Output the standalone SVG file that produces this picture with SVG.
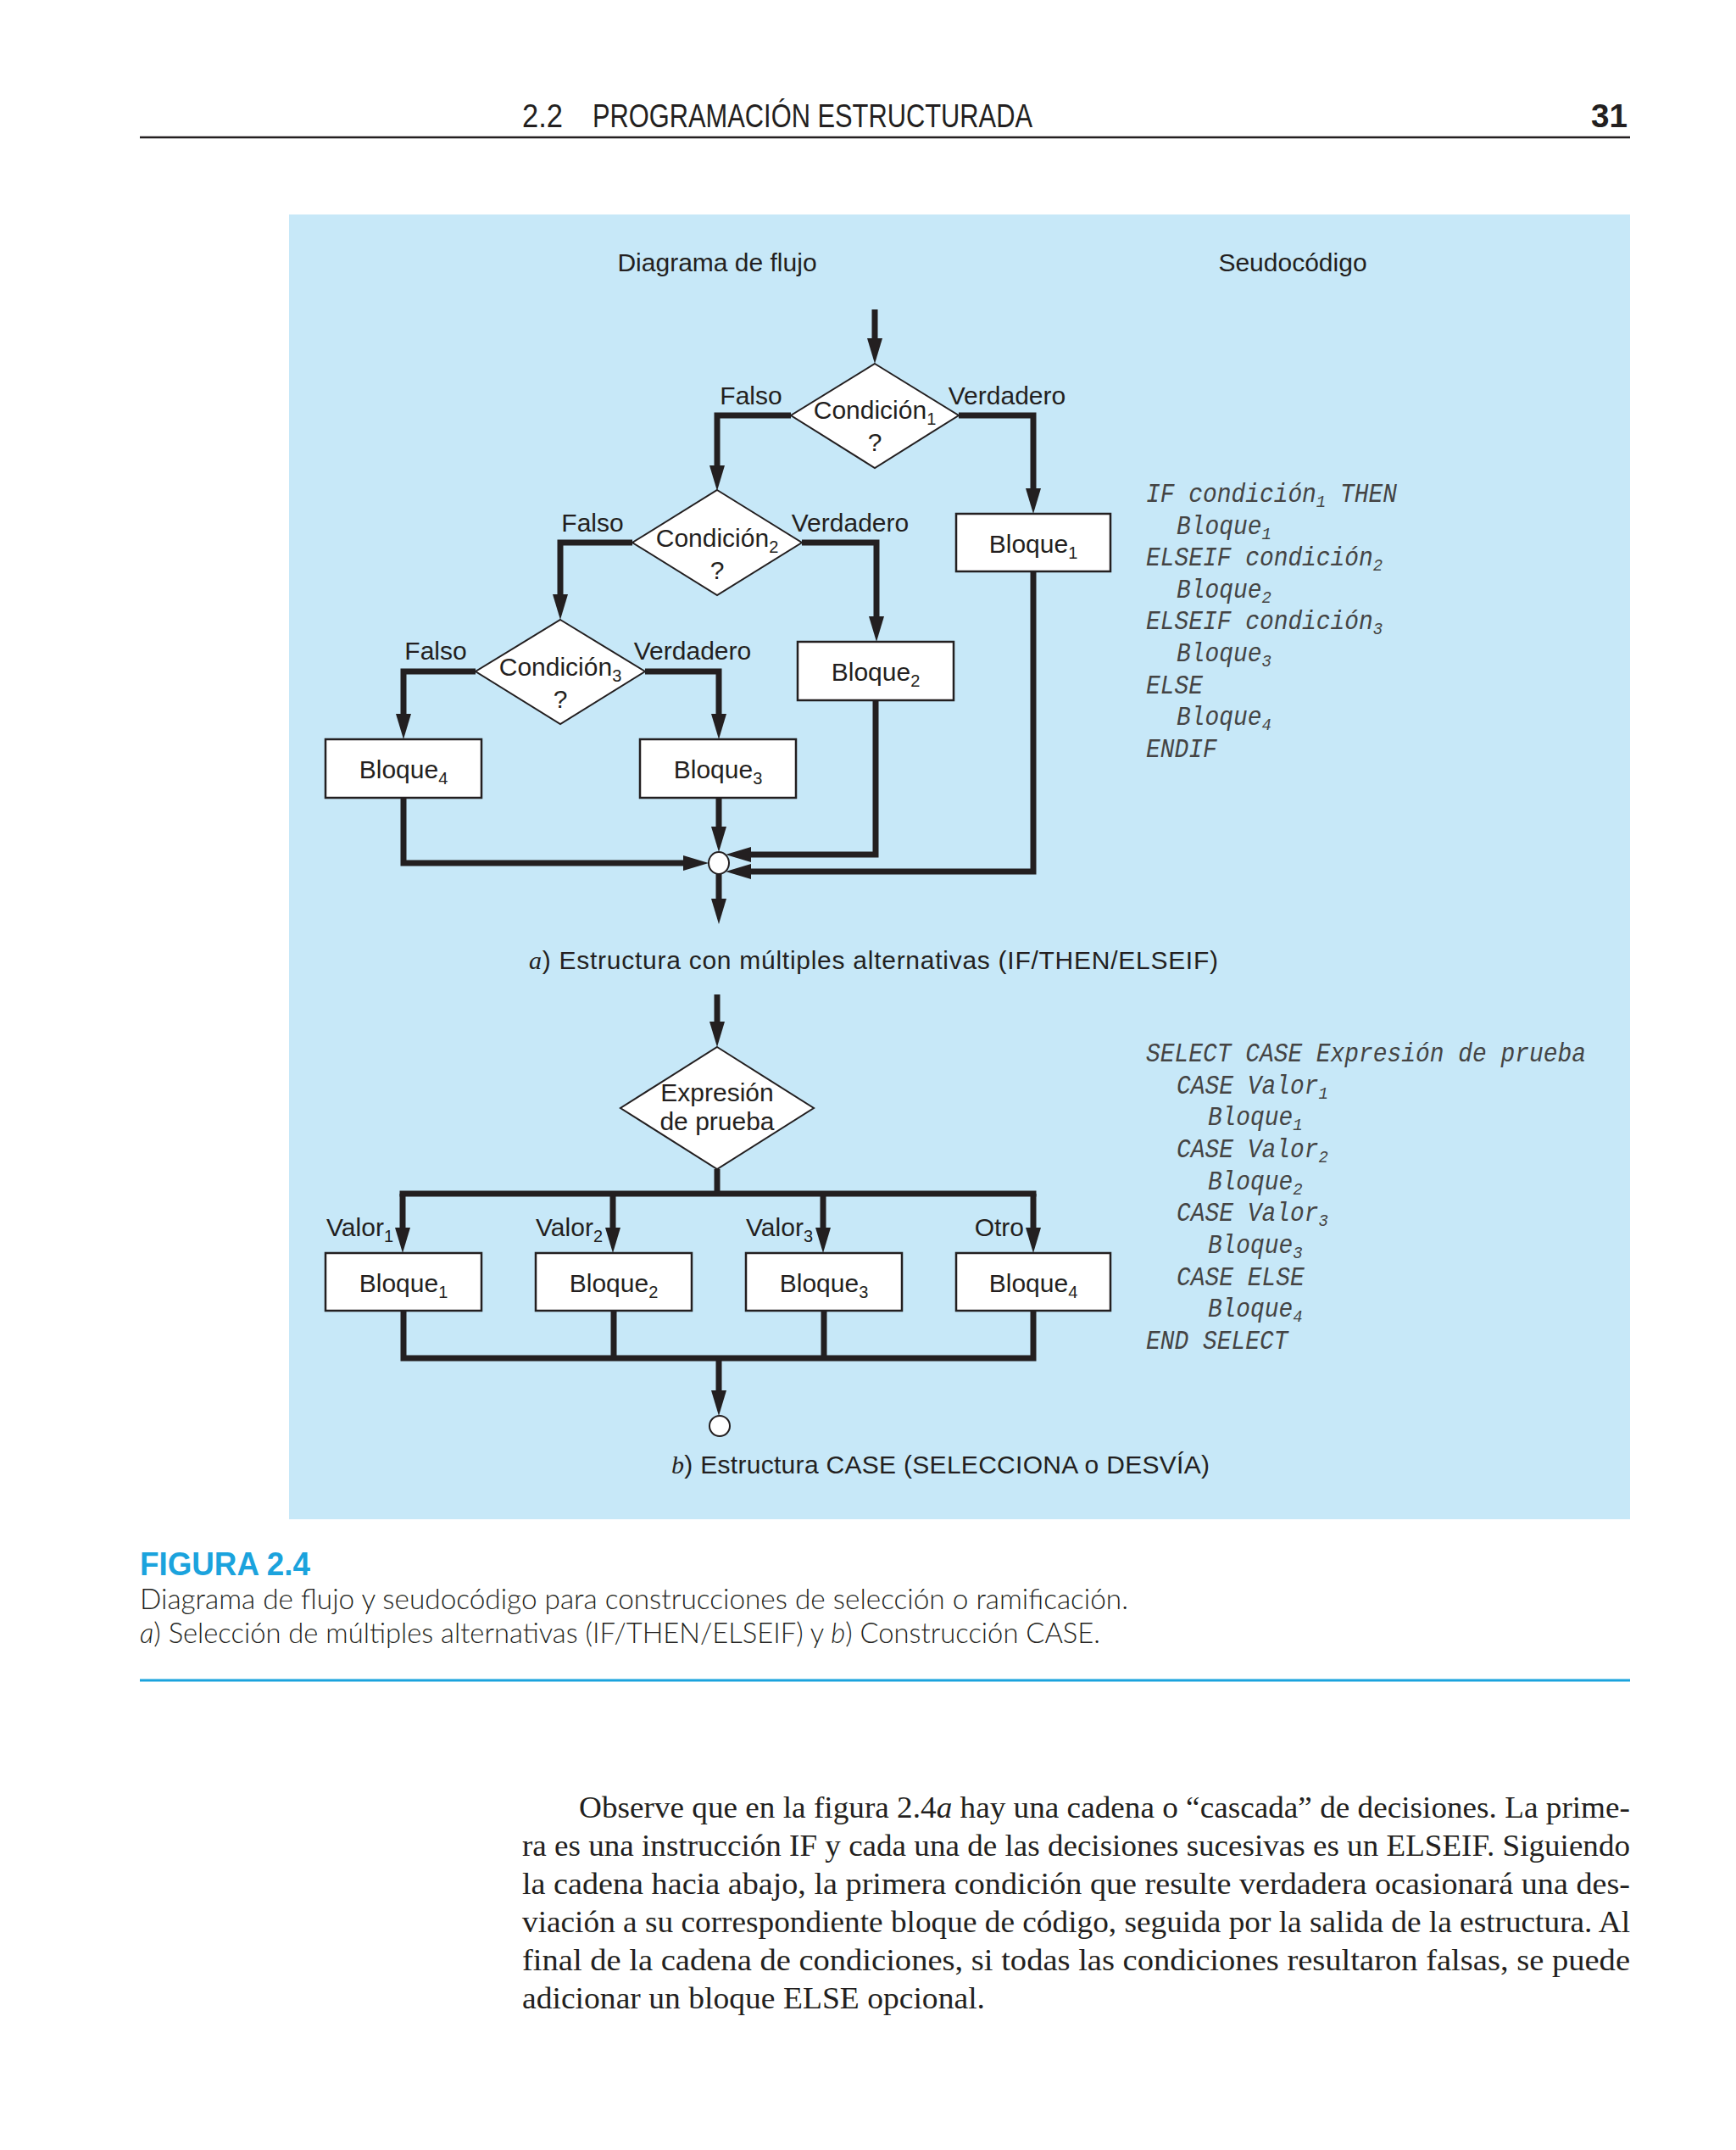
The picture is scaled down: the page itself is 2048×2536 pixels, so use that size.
<svg xmlns="http://www.w3.org/2000/svg" width="2048" height="2536" viewBox="0 0 2048 2536">
<style>
.lbl{font-family:"Liberation Sans",Arial,sans-serif;font-size:30px;fill:#231f20}
.sub{font-size:20px}
.code{font-family:"Liberation Mono","DejaVu Sans Mono",monospace;font-style:italic;font-size:31px;fill:#444}
.csub{font-size:21px}
.conn{fill:none;stroke:#231f20;stroke-width:7;stroke-linejoin:miter}
.box{fill:#fff;stroke:#231f20;stroke-width:2.5}
.dia{fill:#fff;stroke:#231f20;stroke-width:2}
.hdr{font-family:"Liberation Sans",Arial,sans-serif;font-size:38px;fill:#231f20}
.cap{font-family:Lato,"Liberation Sans",Arial,sans-serif;font-weight:300;font-size:34px;fill:#231f20}
.body{font-family:"Liberation Serif","Times New Roman",serif;font-size:36px;fill:#231f20}
.it{font-family:"Liberation Serif",serif;font-style:italic}
</style>
<defs>
<marker id="ah" markerUnits="userSpaceOnUse" markerWidth="30" markerHeight="18" refX="0" refY="9" orient="auto" overflow="visible">
<path d="M0,0 L30,9 L0,18 z" fill="#231f20"/>
</marker>
</defs>
<rect width="2048" height="2536" fill="#fff"/>

<g id="header">
<text class="hdr" x="616" y="150" textLength="48" lengthAdjust="spacingAndGlyphs">2.2</text>
<text class="hdr" x="699" y="150" textLength="519" lengthAdjust="spacingAndGlyphs">PROGRAMACIÓN ESTRUCTURADA</text>
<text class="hdr" x="1877" y="150" font-weight="bold" textLength="43" lengthAdjust="spacingAndGlyphs">31</text>
<line x1="165" y1="162" x2="1923" y2="162" stroke="#231f20" stroke-width="2.5"/>
</g>

<rect id="panel" x="341" y="253" width="1582" height="1539" fill="#c7e8f8"/>

<text class="lbl" x="846" y="320" text-anchor="middle">Diagrama de flujo</text>
<text class="lbl" x="1525" y="320" text-anchor="middle">Seudocódigo</text>

<g id="connectors">
<path class="conn" d="M1032,365 V399" marker-end="url(#ah)"/>
<path class="conn" d="M933,490 H846 V549" marker-end="url(#ah)"/>
<path class="conn" d="M1131,490 H1219 V576" marker-end="url(#ah)"/>
<path class="conn" d="M746,640 H661 V701" marker-end="url(#ah)"/>
<path class="conn" d="M946,640 H1034 V727" marker-end="url(#ah)"/>
<path class="conn" d="M561,792 H476 V842" marker-end="url(#ah)"/>
<path class="conn" d="M761,792 H848 V842" marker-end="url(#ah)"/>
<path class="conn" d="M848,941 V975" marker-end="url(#ah)"/>
<path class="conn" d="M476,941 V1018 H806" marker-end="url(#ah)"/>
<path class="conn" d="M1033,826 V1008 H886" marker-end="url(#ah)"/>
<path class="conn" d="M1219,674 V1028 H886" marker-end="url(#ah)"/>
<path class="conn" d="M848,1031 V1060" marker-end="url(#ah)"/>

<path class="conn" d="M846,1173 V1205" marker-end="url(#ah)"/>
<path class="conn" d="M846,1379 V1408"/>
<path class="conn" d="M475,1408 H1219" stroke-linecap="square"/>
<path class="conn" d="M475,1408 V1448" marker-end="url(#ah)"/>
<path class="conn" d="M723,1408 V1448" marker-end="url(#ah)"/>
<path class="conn" d="M971,1408 V1448" marker-end="url(#ah)"/>
<path class="conn" d="M1219,1408 V1448" marker-end="url(#ah)"/>
<path class="conn" d="M476,1546 V1602 H1219 V1546"/>
<path class="conn" d="M724,1546 V1602"/>
<path class="conn" d="M972,1546 V1602"/>
<path class="conn" d="M848,1602 V1640" marker-end="url(#ah)"/>
</g>

<g id="cond1">
<polygon class="dia" points="1032,429 1131,490 1032,552 933,490"/>
<text class="lbl" x="1032" y="494" text-anchor="middle">Condición<tspan class="sub" dy="7">1</tspan></text>
<text class="lbl" x="1032" y="532" text-anchor="middle">?</text>
</g>
<g id="cond2">
<polygon class="dia" points="846,578 946,640 846,702 746,640"/>
<text class="lbl" x="846" y="645" text-anchor="middle">Condición<tspan class="sub" dy="7">2</tspan></text>
<text class="lbl" x="846" y="683" text-anchor="middle">?</text>
</g>
<g id="cond3">
<polygon class="dia" points="661,731 761,792 661,854 561,792"/>
<text class="lbl" x="661" y="797" text-anchor="middle">Condición<tspan class="sub" dy="7">3</tspan></text>
<text class="lbl" x="661" y="835" text-anchor="middle">?</text>
</g>

<g id="labels-a">
<text class="lbl" x="886" y="477" text-anchor="middle">Falso</text>
<text class="lbl" x="1188" y="477" text-anchor="middle">Verdadero</text>
<text class="lbl" x="699" y="627" text-anchor="middle">Falso</text>
<text class="lbl" x="1003" y="627" text-anchor="middle">Verdadero</text>
<text class="lbl" x="514" y="778" text-anchor="middle">Falso</text>
<text class="lbl" x="817" y="778" text-anchor="middle">Verdadero</text>
</g>

<g id="a-bloque1">
<rect class="box" x="1128" y="606" width="182" height="68"/>
<text class="lbl" x="1219" y="652" text-anchor="middle">Bloque<tspan class="sub" dy="7">1</tspan></text>
</g>
<g id="a-bloque2">
<rect class="box" x="941" y="757" width="184" height="69"/>
<text class="lbl" x="1033" y="803" text-anchor="middle">Bloque<tspan class="sub" dy="7">2</tspan></text>
</g>
<g id="a-bloque4">
<rect class="box" x="384" y="872" width="184" height="69"/>
<text class="lbl" x="476" y="918" text-anchor="middle">Bloque<tspan class="sub" dy="7">4</tspan></text>
</g>
<g id="a-bloque3">
<rect class="box" x="755" y="872" width="184" height="69"/>
<text class="lbl" x="847" y="918" text-anchor="middle">Bloque<tspan class="sub" dy="7">3</tspan></text>
</g>
<g id="a-join">
<ellipse cx="848" cy="1018" rx="12" ry="13" fill="#fff" stroke="#231f20" stroke-width="2"/>
</g>

<text class="lbl" x="624" y="1143" font-size="29" textLength="813" lengthAdjust="spacing"><tspan class="it">a</tspan>) Estructura con múltiples alternativas (IF/THEN/ELSEIF)</text>

<g id="code-a" class="code" transform="translate(1352,0) scale(0.9,1) translate(-1352,0)">
<text x="1352" y="592">IF condición<tspan class="csub" dy="6">1</tspan><tspan dy="-6"> THEN</tspan></text>
<text x="1392" y="630">Bloque<tspan class="csub" dy="6">1</tspan></text>
<text x="1352" y="667">ELSEIF condición<tspan class="csub" dy="6">2</tspan></text>
<text x="1392" y="705">Bloque<tspan class="csub" dy="6">2</tspan></text>
<text x="1352" y="742">ELSEIF condición<tspan class="csub" dy="6">3</tspan></text>
<text x="1392" y="780">Bloque<tspan class="csub" dy="6">3</tspan></text>
<text x="1352" y="818">ELSE</text>
<text x="1392" y="855">Bloque<tspan class="csub" dy="6">4</tspan></text>
<text x="1352" y="893">ENDIF</text>
</g>

<g id="expr">
<polygon class="dia" points="846,1235 960,1307 846,1379 732,1307"/>
<text class="lbl" x="846" y="1299" text-anchor="middle" font-size="28">Expresión</text>
<text class="lbl" x="846" y="1333" text-anchor="middle" font-size="28">de prueba</text>
</g>

<g id="labels-b">
<text class="lbl" x="464" y="1458" text-anchor="end">Valor<tspan class="sub" dy="7">1</tspan></text>
<text class="lbl" x="711" y="1458" text-anchor="end">Valor<tspan class="sub" dy="7">2</tspan></text>
<text class="lbl" x="959" y="1458" text-anchor="end">Valor<tspan class="sub" dy="7">3</tspan></text>
<text class="lbl" x="1208" y="1458" text-anchor="end">Otro</text>
</g>

<g id="b-bloque1">
<rect class="box" x="384" y="1478" width="184" height="68"/>
<text class="lbl" x="476" y="1524" text-anchor="middle">Bloque<tspan class="sub" dy="7">1</tspan></text>
</g>
<g id="b-bloque2">
<rect class="box" x="632" y="1478" width="184" height="68"/>
<text class="lbl" x="724" y="1524" text-anchor="middle">Bloque<tspan class="sub" dy="7">2</tspan></text>
</g>
<g id="b-bloque3">
<rect class="box" x="880" y="1478" width="184" height="68"/>
<text class="lbl" x="972" y="1524" text-anchor="middle">Bloque<tspan class="sub" dy="7">3</tspan></text>
</g>
<g id="b-bloque4">
<rect class="box" x="1128" y="1478" width="182" height="68"/>
<text class="lbl" x="1219" y="1524" text-anchor="middle">Bloque<tspan class="sub" dy="7">4</tspan></text>
</g>
<g id="b-end">
<circle cx="849" cy="1682" r="12" fill="#fff" stroke="#231f20" stroke-width="2"/>
</g>

<text class="lbl" x="792" y="1738" font-size="29" textLength="635" lengthAdjust="spacing"><tspan class="it">b</tspan>) Estructura CASE (SELECCIONA o DESVÍA)</text>

<g id="code-b" class="code" transform="translate(1352,0) scale(0.9,1) translate(-1352,0)">
<text x="1352" y="1252">SELECT CASE Expresión de prueba</text>
<text x="1392" y="1290">CASE Valor<tspan class="csub" dy="6">1</tspan></text>
<text x="1433" y="1327">Bloque<tspan class="csub" dy="6">1</tspan></text>
<text x="1392" y="1365">CASE Valor<tspan class="csub" dy="6">2</tspan></text>
<text x="1433" y="1403">Bloque<tspan class="csub" dy="6">2</tspan></text>
<text x="1392" y="1440">CASE Valor<tspan class="csub" dy="6">3</tspan></text>
<text x="1433" y="1478">Bloque<tspan class="csub" dy="6">3</tspan></text>
<text x="1392" y="1516">CASE ELSE</text>
<text x="1433" y="1553">Bloque<tspan class="csub" dy="6">4</tspan></text>
<text x="1352" y="1591">END SELECT</text>
</g>

<g id="caption">
<text x="165" y="1858" font-family="'Liberation Sans',Arial,sans-serif" font-weight="bold" font-size="38" fill="#1ba3dd" textLength="201" lengthAdjust="spacingAndGlyphs">FIGURA 2.4</text>
<text class="cap" x="165" y="1898" textLength="1166" lengthAdjust="spacingAndGlyphs">Diagrama de flujo y seudocódigo para construcciones de selección o ramificación.</text>
<text class="cap" x="165" y="1938" textLength="1133" lengthAdjust="spacingAndGlyphs"><tspan font-style="italic">a</tspan>) Selección de múltiples alternativas (IF/THEN/ELSEIF) y <tspan font-style="italic">b</tspan>) Construcción CASE.</text>
<line x1="165" y1="1982" x2="1923" y2="1982" stroke="#1ba3dd" stroke-width="3"/>
</g>

<g id="body">
<text class="body" x="683" y="2144" textLength="1240" lengthAdjust="spacingAndGlyphs">Observe que en la figura 2.4<tspan font-style="italic">a</tspan> hay una cadena o “cascada” de decisiones. La prime-</text>
<text class="body" x="616" y="2189" textLength="1307" lengthAdjust="spacingAndGlyphs">ra es una instrucción IF y cada una de las decisiones sucesivas es un ELSEIF. Siguiendo</text>
<text class="body" x="616" y="2234" textLength="1307" lengthAdjust="spacingAndGlyphs">la cadena hacia abajo, la primera condición que resulte verdadera ocasionará una des-</text>
<text class="body" x="616" y="2279" textLength="1307" lengthAdjust="spacingAndGlyphs">viación a su correspondiente bloque de código, seguida por la salida de la estructura. Al</text>
<text class="body" x="616" y="2324" textLength="1307" lengthAdjust="spacingAndGlyphs">final de la cadena de condiciones, si todas las condiciones resultaron falsas, se puede</text>
<text class="body" x="616" y="2369" textLength="546" lengthAdjust="spacingAndGlyphs">adicionar un bloque ELSE opcional.</text>
</g>
</svg>
